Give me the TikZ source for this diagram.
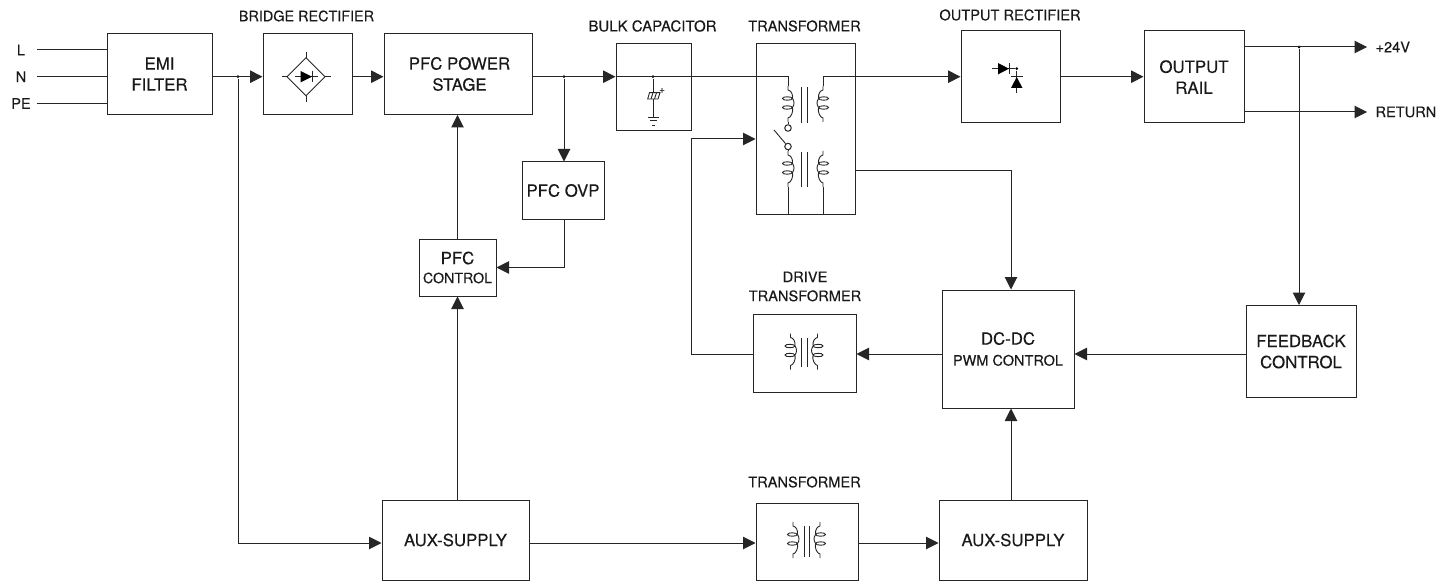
\documentclass[tikz,border=0pt]{standalone}
\usepackage{fontspec}
\setmainfont[FakeBold=0.25]{TeX Gyre Heros}
\usetikzlibrary{arrows.meta}

\begin{document}
\begin{tikzpicture}[x=1pt,y=-1pt,line width=1pt,draw=black!85,text=black!90]
  \tikzset{block/.style={shape=rectangle,draw,inner sep=0pt,align=center,font=\fontsize{16.8}{21}\selectfont}};
  \tikzset{small/.style={font=\fontsize{14.6}{19}\selectfont,inner sep=0pt,align=center}};
  \tikzset{port/.style={small,minimum width=30pt}};
  \tikzset{dot/.style={shape=circle,fill=black,inner sep=0pt,minimum size=3pt}};
  \tikzset{term/.style={shape=circle,draw,fill=white,inner sep=0pt,minimum size=6.5pt}};
  \tikzset{flow/.style={arrows={-{Triangle[length=12.5pt,width=12.5pt]}}}};
  \tikzset{sym/.style={line width=0.9pt}};
  \tikzset{coil/.pic={
    \draw[sym] (0,-18) -- (0,-14) .. controls (3,-13.5) and (5,-10) .. (4.5,-5.5)
      .. controls (4.5,-3.5) and (-5.5,-3) .. (-5.5,-5.5) .. controls (-5.5,-8) and (4.5,-7.5) .. (4.5,-5.5)
      .. controls (6.5,-2.5) and (6.5,0.5) .. (4.5,3.5)
      .. controls (4.5,5.5) and (-5.5,6) .. (-5.5,3.5) .. controls (-5.5,1) and (4.5,1.5) .. (4.5,3.5)
      .. controls (5.5,8) and (3,13.5) .. (0,14) -- (0,18);
  }};
  \useasboundingbox (0,0) rectangle (1452,583);

  \coordinate (bus) at (0,76.7);
  \coordinate (pwmrow) at (0,354);
  \coordinate (auxrow) at (0,543);
  \coordinate (plusrail) at (0,47);
  \coordinate (retrail) at (0,112);

  \node[block,minimum width=105pt,minimum height=81pt] (emi) at (159.5,74) {EMI\\FILTER};
  \node[block,minimum width=89pt,minimum height=81pt] (bridge) at (307.5,74) {};
  \node[block,minimum width=148pt,minimum height=81pt] (pfc) at (458,74) {\hspace*{3pt}PFC POWER\\\hspace*{3pt}STAGE};
  \node[block,minimum width=75pt,minimum height=87pt] (bulk) at (653.5,87.5) {};
  \node[block,minimum width=99pt,minimum height=170pt] (trafo) at (805.5,129) {};
  \node[block,minimum width=99pt,minimum height=92pt] (outrect) at (1010.5,77) {};
  \node[block,minimum width=100pt,minimum height=92pt] (rail) at (1194,77) {OUTPUT\\RAIL};
  \node[block,minimum width=82pt,minimum height=57pt] (ovp) at (563,190.5) {PFC OVP};
  \node[block,minimum width=77pt,minimum height=57pt] (pfcctl) at (457.5,267.5) {PFC\\[-2pt]{\fontsize{14.2}{19}\selectfont CONTROL}};
  \node[block,minimum width=103pt,minimum height=78pt] (drive) at (804.5,353) {};
  \node[block,minimum width=132pt,minimum height=118pt] (dcdc) at (1008,349) {DC-DC\\{\fontsize{14.5}{19}\selectfont PWM CONTROL}};
  \node[block,minimum width=110pt,minimum height=92pt] (feedback) at (1301,351.5) {FEEDBACK\\CONTROL};
  \node[block,minimum width=147pt,minimum height=80pt] (auxa) at (455.5,540) {AUX-SUPPLY};
  \node[block,minimum width=102pt,minimum height=77pt] (trafob) at (807,541.5) {};
  \node[block,minimum width=148pt,minimum height=80pt] (auxb) at (1013,540) {AUX-SUPPLY};

  \node[small,font=\fontsize{14.4}{19}\selectfont] (lbridge) at (306.5,16) {BRIDGE RECTIFIER};
  \node[small,font=\fontsize{15}{19}\selectfont] (lbulk) at (652.5,26) {BULK CAPACITOR};
  \node[small] (ltrafo) at (804.5,26) {TRANSFORMER};
  \node[small] (loutrect) at (1010,15) {OUTPUT RECTIFIER};
  \node[small] (ldrive) at (805,286.5) {DRIVE\\TRANSFORMER};
  \node[small] (ltrafob) at (804.5,482) {TRANSFORMER};

  \node[port] (L) at (21,50) {L};
  \node[port] (N) at (21,76.7) {N};
  \node[port] (PE) at (21,103.5) {PE};
  \node[small,anchor=west] (v24) at (1375,47) {+24V};
  \node[small,anchor=west] (ret) at (1375,112) {RETURN};

  \node[dot] (jemi) at (238,76.7) {};
  \node[dot] (jpfc) at (564,76.7) {};
  \node[dot] (jcap) at (653,76.7) {};
  \node[dot] (j24) at (1299,47) {};
  \coordinate (tplus) at (1367,47);
  \coordinate (tret) at (1367,112);

  \draw (L) -- (L -| emi.west);
  \draw (N) -- (N -| emi.west);
  \draw (PE) -- (PE -| emi.west);
  \draw[flow] (emi.east |- bus) -- (bridge.west |- bus);
  \draw[flow] (bridge.east |- bus) -- (pfc.west |- bus);
  \draw[flow] (jemi) |- (auxa.west |- auxrow);
  \draw[flow] (pfc.east |- bus) -- (bulk.west |- bus);
  \draw[flow] (jpfc) -- (jpfc |- ovp.north);
  \draw[flow] (ovp.south -| jpfc) |- (pfcctl.east);
  \draw[flow] (pfcctl.north) -- (pfcctl.north |- pfc.south);
  \draw[flow] (auxa.north -| pfcctl) -- (pfcctl.south);
  \draw[flow] (auxa.east |- auxrow) -- (trafob.west |- auxrow);
  \draw[flow] (trafob.east |- auxrow) -- (auxb.west |- auxrow);
  \draw[flow] (auxb.north -| 1011,0) -- (dcdc.south -| 1011,0);
  \draw[flow] (feedback.west |- pwmrow) -- (dcdc.east |- pwmrow);
  \draw[flow] (dcdc.west |- pwmrow) -- (drive.east |- pwmrow);
  \draw[flow] (drive.west |- pwmrow) -| (691,139) -- (trafo.west |- 0,139);
  \draw[flow] (trafo.east |- 0,171) -| (dcdc.north -| 1011,0);
  \draw[flow] (outrect.east |- bus) -- (rail.west |- bus);
  \draw[flow] (rail.east |- plusrail) -- (tplus);
  \draw[flow] (rail.east |- retrail) -- (tret);
  \draw[flow] (j24) -- (j24 |- feedback.north);

  \coordinate (ptop) at (788,104);
  \coordinate (stop) at (823,104);
  \coordinate (plow) at (788,169);
  \coordinate (slow) at (823,169);
  \node[term] (swa) at (788,128) {};
  \node[term] (swb) at (788,146.5) {};
  \coordinate (swarm) at (774,130);
  \draw (bulk.west |- bus) -- (ptop |- bus) -- (788,86);
  \draw (823,86) -- (stop |- bus);
  \draw[flow] (stop |- bus) -- (outrect.west |- bus);
  \pic at (ptop) {coil};
  \pic[xscale=-1] at (stop) {coil};
  \pic at (plow) {coil};
  \pic[xscale=-1] at (slow) {coil};
  \draw[sym] (788,122) -- (swa);
  \draw[sym] (swb) -- (788,151);
  \draw[sym] (swb) -- (swarm);
  \draw (788,187) -- (plow |- trafo.south);
  \draw (823,187) -- (slow |- trafo.south);
  \foreach \xbar in {801,807} {
    \draw[sym] (\xbar,87) -- (\xbar,122.7);
    \draw[sym] (\xbar,152) -- (\xbar,187);
    \draw[sym] (\xbar,338) -- (\xbar,367);
  }
  \foreach \xbar in {804,809} \draw[sym] (\xbar,526) -- (\xbar,557);

  \pic at (790.5,351.5) {coil};
  \pic[xscale=-1] at (817.5,351.5) {coil};
  \pic at (793,540) {coil};
  \pic[xscale=-1] at (820,540) {coil};

  \draw[sym] (306,57.7) -- (325,76.7) -- (306,95.7) -- (287,76.7) -- cycle;
  \draw[sym] (306,52) -- (306,57.7);
  \draw[sym] (306,95.7) -- (306,101.7);
  \draw[sym] (282,76.7) -- (287,76.7);
  \draw[sym] (325,76.7) -- (331,76.7);
  \draw[sym] (295,76.7) -- (318,76.7);
  \fill[black] (300.7,71) -- (312,76.7) -- (300.7,82.4) -- cycle;
  \draw[sym] (312,71) -- (312,82.4);

  \draw[sym] (jcap) -- (653,117);
  \draw[sym,fill=white] (649.5,92.7) -- (660,92.7) -- (658,99) -- (647.7,99) -- cycle;
  \draw[sym] (653,92.7) -- (651,99);
  \draw[sym] (656.5,92.7) -- (654.5,99);
  \node[inner sep=0pt,font=\fontsize{10}{10}\selectfont] (capplus) at (662,90.5) {+};
  \draw[sym] (648,117) -- (659,117);
  \draw[sym] (650,120.7) -- (657,120.7);
  \draw[sym] (652,125) -- (655,125);

  \node[dot] (jrect) at (1016.7,68.7) {};
  \draw[sym] (992,68.7) -- (jrect);
  \fill[black] (998,63) -- (1009,68.7) -- (998,74.4) -- cycle;
  \draw[sym] (1009,63) -- (1009,74.4);
  \draw[sym] (jrect) -- (1016.7,93);
  \draw[sym] (1011,76.7) -- (1023,76.7);
  \fill[black] (1016.7,77) -- (1022.5,88) -- (1011,88) -- cycle;
\end{tikzpicture}
\end{document}
